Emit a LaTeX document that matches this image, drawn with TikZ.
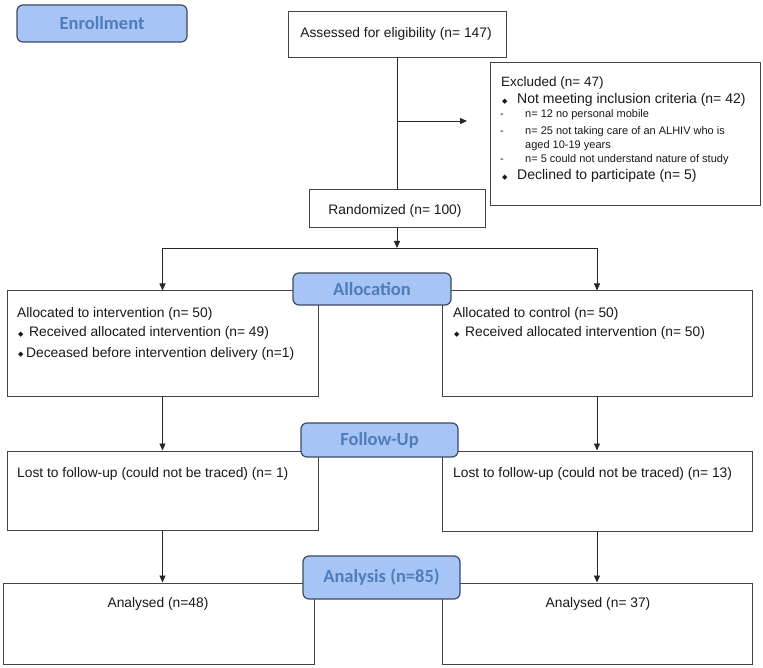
\documentclass[tikz,border=0pt]{standalone}
\usepackage{fontspec}
\setmainfont{Liberation Sans}
\newfontfamily\labfont{Carlito}
\newfontfamily\symfont{DejaVu Sans}
\usetikzlibrary{arrows.meta}
\definecolor{labfill}{HTML}{A6C4F6}
\definecolor{labtext}{HTML}{4F7DBA}
\definecolor{labline}{HTML}{3E4A60}
\definecolor{boxline}{HTML}{444444}
\newcommand{\mybul}{{\symfont\fontsize{7}{7}\selectfont ◆}}
\tikzset{
 box/.style={draw=boxline, line width=1pt, fill=white, inner sep=0pt},
 lab/.style={draw=labline, line width=1.2pt, fill=labfill, rounded corners=6pt, text=labtext, font=\labfont\bfseries\fontsize{18.5}{18.5}\selectfont, inner sep=0pt},
 arr/.style={draw=black!85, line width=0.9pt, -{Triangle[length=7pt,width=6pt]}},
 ln/.style={draw=black!85, line width=0.9pt},
 txt/.style={anchor=base west, inner sep=0pt, font=\fontsize{13.8}{16}\selectfont, text=black!90},
 ctxt/.style={anchor=base, inner sep=0pt, font=\fontsize{13.8}{16}\selectfont, text=black!90},
 small/.style={anchor=base west, inner sep=0pt, font=\fontsize{11}{13}\selectfont, text=black!90},
}
\begin{document}
\begin{tikzpicture}[x=1pt,y=-1pt]
\useasboundingbox (0,0) rectangle (763,668);
% boxes
\node[box, minimum width=218pt, minimum height=46pt] (assess) at (397,35) {};
\node[box, minimum width=270pt, minimum height=143pt] (excl) at (625,134.5) {};
\node[box, minimum width=176pt, minimum height=38pt] (rand) at (397,209) {};
\node[box, minimum width=311pt, minimum height=105pt] (allocL) at (162.5,343.5) {};
\node[box, minimum width=310pt, minimum height=105pt] (allocR) at (597,343.5) {};
\node[box, minimum width=311pt, minimum height=79pt] (fuL) at (162.5,490.5) {};
\node[box, minimum width=310pt, minimum height=80pt] (fuR) at (597,491) {};
\node[box, minimum width=311pt, minimum height=81pt] (anL) at (158.5,623.5) {};
\node[box, minimum width=310pt, minimum height=81pt] (anR) at (597,623.5) {};
% connectors
\coordinate (exA) at (397,121);
\coordinate (exB) at (467,121);
\coordinate (split) at (397,248);
\coordinate (splL) at (162.5,248);
\coordinate (splR) at (597,248);
\draw[ln] (assess.south) -- (rand.north);
\draw[arr] (exA) -- (exB);
\draw[arr] (rand.south) -- (split);
\draw[ln] (splL) -- (splR);
\draw[arr] (splL) -- (allocL.north);
\draw[arr] (splR) -- (allocR.north);
\draw[arr] (allocL.south) -- (fuL.north);
\draw[arr] (allocR.south) -- (fuR.north);
\draw[arr] (fuL.south) -- (fuL.south |- anL.north);
\draw[arr] (fuR.south) -- (anR.north);
% texts
\node[ctxt] (tAssess) at (396,38) {Assessed for eligibility (n= 147)};
\node[ctxt] (tRand) at (395,215) {Randomized (n= 100)};
\node[txt, font=\fontsize{13.5}{16}\selectfont] (tEx1) at (501,87) {Excluded (n= 47)};
\node[txt] (tEx2b) at (502,103.5) {\mybul};
\node[txt, font=\fontsize{14}{16}\selectfont] (tEx2) at (517,104) {Not meeting inclusion criteria (n= 42)};
\node[small] (tEx3d) at (500,118) {-};
\node[small] (tEx3) at (525,118) {n= 12 no personal mobile};
\node[small] (tEx4d) at (500,135) {-};
\node[small] (tEx4) at (525,135) {n= 25 not taking care of an ALHIV who is};
\node[small] (tEx5) at (525,148.5) {aged 10-19 years};
\node[small] (tEx6d) at (500,163) {-};
\node[small] (tEx6) at (525,163) {n= 5 could not understand nature of study};
\node[txt] (tEx7b) at (502,179.5) {\mybul};
\node[txt, font=\fontsize{14}{16}\selectfont] (tEx7) at (517,180) {Declined to participate (n= 5)};
\node[txt] (tAL1) at (17,317) {Allocated to intervention (n= 50)};
\node[txt] (tAL2b) at (18,336.5) {\mybul};
\node[txt] (tAL2) at (29,337) {Received allocated intervention (n= 49)};
\node[txt] (tAL3b) at (18,356.5) {\mybul};
\node[txt] (tAL3) at (26,357) {Deceased before intervention delivery (n=1)};
\node[txt] (tAR1) at (453,317) {Allocated to control (n= 50)};
\node[txt] (tAR2b) at (454,336.5) {\mybul};
\node[txt] (tAR2) at (465,337) {Received allocated intervention (n= 50)};
\node[txt] (tFL) at (17,477) {Lost to follow-up (could not be traced) (n= 1)};
\node[txt] (tFR) at (453,477) {Lost to follow-up (could not be traced) (n= 13)};
\node[ctxt] (tANL) at (158,607) {Analysed (n=48)};
\node[ctxt] (tANR) at (598,607) {Analysed (n= 37)};
% phase labels
\node[lab, minimum width=170pt, minimum height=37pt] (enroll) at (102,23.5) {Enrollment};
\node[lab, minimum width=158pt, minimum height=32pt] (allocLab) at (372,289) {Allocation};
\node[lab, minimum width=157pt, minimum height=34pt] (fuLab) at (379.5,440) {Follow-Up};
\node[lab, minimum width=157pt, minimum height=43pt] (anLab) at (381.5,577.5) {Analysis (n=85)};
\end{tikzpicture}
\end{document}
